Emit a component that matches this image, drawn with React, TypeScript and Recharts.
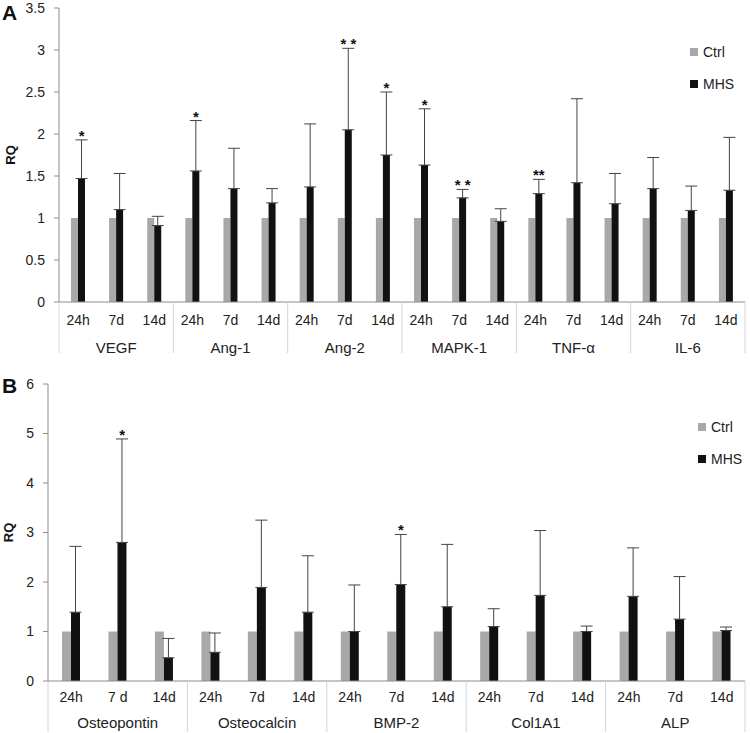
import React from 'react';
import { ComposedChart, Bar, Line, XAxis, YAxis, ErrorBar, LabelList, Legend } from 'recharts';

// Panel A: angiogenesis-related genes
const groupsA = ['VEGF', 'Ang-1', 'Ang-2', 'MAPK-1', 'TNF-α', 'IL-6'];
const timesA = ['24h', '7d', '14d', '24h', '7d', '14d', '24h', '7d', '14d', '24h', '7d', '14d', '24h', '7d', '14d', '24h', '7d', '14d'];
const ctrlA = [1, 1, 1, 1, 1, 1, 1, 1, 1, 1, 1, 1, 1, 1, 1, 1, 1, 1];
const mhsA = [1.47, 1.1, 0.91, 1.56, 1.35, 1.18, 1.37, 2.05, 1.75, 1.63, 1.24, 0.96, 1.29, 1.42, 1.17, 1.35, 1.09, 1.33];
const upperA = [1.93, 1.53, 1.02, 2.16, 1.83, 1.35, 2.12, 3.02, 2.5, 2.3, 1.34, 1.11, 1.46, 2.42, 1.53, 1.72, 1.38, 1.96];
const starsA = ['*', '', '', '*', '', '', '', '* *', '*', '*', '* *', '', '**', '', '', '', '', ''];
const ticksA = [0, 0.5, 1, 1.5, 2, 2.5, 3, 3.5];

// Panel B: osteogenic genes
const groupsB = ['Osteopontin', 'Osteocalcin', 'BMP-2', 'Col1A1', 'ALP'];
const timesB = ['24h', '7 d', '14d', '24h', '7d', '14d', '24h', '7d', '14d', '24h', '7d', '14d', '24h', '7d', '14d'];
const ctrlB = [1, 1, 1, 1, 1, 1, 1, 1, 1, 1, 1, 1, 1, 1, 1];
const mhsB = [1.39, 2.8, 0.47, 0.58, 1.89, 1.39, 1.0, 1.95, 1.5, 1.1, 1.73, 1.0, 1.71, 1.25, 1.02];
const upperB = [2.72, 4.89, 0.86, 0.97, 3.25, 2.53, 1.94, 2.96, 2.76, 1.46, 3.04, 1.11, 2.69, 2.11, 1.09];
const starsB = ['', '*', '', '', '', '', '', '*', '', '', '', '', '', '', ''];
const ticksB = [0, 1, 2, 3, 4, 5, 6];

const FONT = '"Liberation Sans", Arial, sans-serif';
const AXIS = '#8c8c8c';
const SEP = '#d4d4d4';

const buildRows = (groups: string[], times: string[], ctrl: number[], mhs: number[], upper: number[], stars: string[]) =>
  times.map((t, i) => ({
    key: String(i),
    time: t,
    group: groups[Math.floor(i / 3)],
    ctrl: ctrl[i],
    mhs: mhs[i],
    err: [0, upper[i] - mhs[i]],
    upper: upper[i],
    star: stars[i],
  }));

const rowsA = buildRows(groupsA, timesA, ctrlA, mhsA, upperA, starsA);
const rowsB = buildRows(groupsB, timesB, ctrlB, mhsB, upperB, starsB);

const makeTick = (rows: any[], bandHalf: number, row1: number, row2: number, sepLen: number) => (props: any) => {
  const { x, y, index, payload } = props;
  const half = payload && typeof payload.offset === 'number' && payload.offset > 0 ? payload.offset : bandHalf;
  const row = rows[index];
  return (
    <g>
      {index % 3 === 0 && <line x1={x - half} x2={x - half} y1={y} y2={y + sepLen} stroke={SEP} />}
      {index === rows.length - 1 && <line x1={x + half} x2={x + half} y1={y} y2={y + sepLen} stroke={SEP} />}
      <text x={x} y={y + row1} textAnchor="middle" fontSize={14} fill="#222" fontFamily={FONT}>
        {row.time}
      </text>
      {index % 3 === 1 && (
        <text x={x} y={y + row2} textAnchor="middle" fontSize={15} fill="#222" fontFamily={FONT}>
          {row.group}
        </text>
      )}
    </g>
  );
};

const makeStar = (shift: number) => (props: any) => {
  const { x, y, value } = props;
  if (!value) return null;
  return (
    <text x={x + shift} y={y + 1} textAnchor="middle" fontSize={15} fontWeight="bold" fill="#111" fontFamily={FONT}>
      {value}
    </text>
  );
};

const LegendBox = (props: any) => {
  const items = (props.payload || []).filter((p: any) => p.type !== 'none');
  return (
    <div style={{ fontFamily: FONT }}>
      {items.map((p: any) => (
        <div key={p.value} style={{ height: 32, display: 'flex', alignItems: 'center', fontSize: 14, color: '#222' }}>
          <span style={{ display: 'inline-block', width: 8, height: 8, background: p.color, marginRight: 5 }} />
          {p.value}
        </div>
      ))}
    </div>
  );
};

interface PanelProps {
  rows: any[];
  height: number;
  top: number;
  bottom: number;
  yWidth: number;
  ticks: number[];
  barSize: number;
  xHeight: number;
  row1: number;
  row2: number;
  sepLen: number;
  rqOffset: number;
  legendLeft: number;
  legendTop: number;
}

const Panel: React.FC<PanelProps> = (p) => {
  const plotWidth = 750 - p.yWidth - 5;
  const bandHalf = plotWidth / p.rows.length / 2;
  return (
    <ComposedChart
      width={750}
      height={p.height}
      data={p.rows}
      margin={{ top: p.top, right: 5, left: 0, bottom: p.bottom }}
      barGap={0}
      style={{ overflow: 'visible' }}
    >
      <XAxis
        dataKey="key"
        height={p.xHeight}
        interval={0}
        axisLine={{ stroke: AXIS }}
        tickLine={false}
        tickSize={0}
        tickMargin={0}
        tick={makeTick(p.rows, bandHalf, p.row1, p.row2, p.sepLen)}
      />
      <YAxis
        width={p.yWidth}
        domain={[0, p.ticks[p.ticks.length - 1]]}
        ticks={p.ticks}
        interval={0}
        axisLine={{ stroke: AXIS }}
        tickLine={{ stroke: AXIS }}
        tickSize={5}
        tickMargin={9}
        tick={{ fill: '#222', fontSize: 14, fontFamily: FONT }}
        label={{
          value: 'RQ',
          angle: -90,
          position: 'insideLeft',
          offset: p.rqOffset,
          style: { textAnchor: 'middle', fontWeight: 'bold', fontSize: 13, fill: '#111', fontFamily: FONT },
        }}
      />
      <Legend
        content={LegendBox}
        layout="horizontal"
        verticalAlign="middle"
        align="center"
        wrapperStyle={{ left: p.legendLeft, top: p.legendTop, width: 'auto', height: 'auto' }}
      />
      <Bar dataKey="ctrl" name="Ctrl" fill="#a8a8a8" barSize={p.barSize} isAnimationActive={false} />
      <Bar dataKey="mhs" name="MHS" fill="#111111" barSize={p.barSize} isAnimationActive={false}>
        <ErrorBar dataKey="err" width={6} stroke="#444" strokeWidth={1} />
      </Bar>
      <Line dataKey="upper" stroke="none" dot={false} activeDot={false} legendType="none" isAnimationActive={false}>
        <LabelList dataKey="star" content={makeStar(p.barSize / 2)} />
      </Line>
    </ComposedChart>
  );
};

const letterStyle: React.CSSProperties = {
  position: 'absolute',
  left: 2,
  fontFamily: FONT,
  fontWeight: 'bold',
  fontSize: 21,
  lineHeight: '21px',
  color: '#111',
};

export default function App() {
  return (
    <div style={{ position: 'absolute', left: 0, top: 0, width: 750, height: 733, background: '#fff', fontFamily: FONT }}>
      <div style={{ position: 'absolute', left: 0, top: 0 }}>
        <Panel
          rows={rowsA}
          height={358}
          top={8}
          bottom={0}
          yWidth={59}
          ticks={ticksA}
          barSize={7}
          xHeight={56}
          row1={23}
          row2={51}
          sepLen={51}
          rqOffset={10}
          legendLeft={690}
          legendTop={36}
        />
      </div>
      <div style={{ position: 'absolute', left: 0, top: 360 }}>
        <Panel
          rows={rowsB}
          height={373}
          top={24}
          bottom={2}
          yWidth={48}
          ticks={ticksB}
          barSize={9}
          xHeight={50}
          row1={21}
          row2={47}
          sepLen={51}
          rqOffset={8}
          legendLeft={698}
          legendTop={51}
        />
      </div>
      <div style={{ ...letterStyle, top: 2 }}>A</div>
      <div style={{ ...letterStyle, top: 375 }}>B</div>
    </div>
  );
}
